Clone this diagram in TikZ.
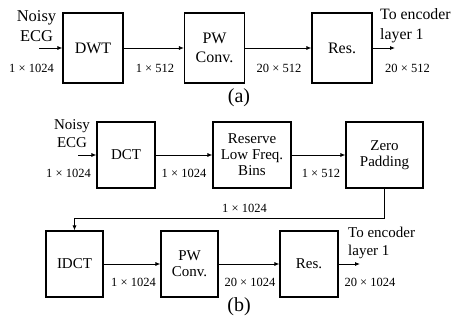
\documentclass[tikz,border=0pt]{standalone}
\usepackage{fontspec}
\setmainfont{Liberation Serif}
\usetikzlibrary{arrows.meta,positioning,calc}

\begin{document}
\begin{tikzpicture}[x=1pt, y=-1pt,
  blk/.style={draw, line width=1.1pt, inner sep=0pt, align=center, minimum width=60pt, minimum height=70pt, font=\fontsize{16}{19}\selectfont},
  blkb/.style={blk, minimum width=58pt, minimum height=66pt, font=\fontsize{15}{16}\selectfont},
  dim/.style={inner sep=0pt, font=\fontsize{12.5}{14}\selectfont},
  txt/.style={inner sep=0pt, align=center, font=\fontsize{16.5}{20}\selectfont},
  txtb/.style={txt, font=\fontsize{15}{18}\selectfont},
  arr/.style={-{Latex[length=5pt, width=4pt]}, line width=0.8pt},
]
  \useasboundingbox (0,0) rectangle (453,326);

  % (a): DWT branch
  \node[txt] (noisya) at (36.5,26) {Noisy\\ECG};
  \coordinate (ina) at (39,48);
  \node[blk] (dwt) at (93,48) {DWT};
  \node[blk] (pwa) at (214.5,48) {PW\\Conv.};
  \node[blk] (resa) at (342,48) {Res.};
  \coordinate (outa) at (395,48);
  \node[txt, align=left, anchor=west, font=\fontsize{15.8}{20}\selectfont] (enca) at (380,26) {To encoder\\layer 1};

  \node[dim] (da1) at (31.5,68) {1 × 1024};
  \node[dim] (da2) at (155,68) {1 × 512};
  \node[dim] (da3) at (279,68) {20 × 512};
  \node[dim] (da4) at (407.5,68) {20 × 512};

  \draw[arr] (ina) -- (dwt);
  \draw[arr] (dwt) -- (pwa);
  \draw[arr] (pwa) -- (resa);
  \draw[arr] (resa) -- (outa);

  \node[font=\fontsize{20}{22}\selectfont] (laba) at (239,98) {(a)};

  % (b): DCT branch, first row
  \node[txtb] (noisyb) at (72,134) {Noisy\\ECG};
  \coordinate (inb) at (78,155);
  \node[blkb] (dct) at (126,155) {DCT};
  \node[blkb, minimum width=78pt] (keep) at (252,155) {Reserve\\Low Freq.\\Bins};
  \node[blkb, minimum width=77pt] (zero) at (384.5,155) {Zero\\Padding};

  \node[dim] (db1) at (68.5,173) {1 × 1024};
  \node[dim] (db2) at (184,173) {1 × 1024};
  \node[dim] (db3) at (321,173) {1 × 512};
  \node[dim] (db4) at (244.5,208) {1 × 1024};

  \draw[arr] (inb) -- (dct);
  \draw[arr] (dct) -- (keep);
  \draw[arr] (keep) -- (zero);

  % (b): second row
  \node[blkb, minimum width=57pt] (idct) at (74.5,264) {IDCT};
  \node[blkb, minimum width=57pt] (pwb) at (189.5,264) {PW\\Conv.};
  \node[blkb] (resb) at (309,264) {Res.};
  \coordinate (outb) at (360,264);
  \node[txtb, align=left, anchor=west] (encb) at (348,242.5) {To encoder\\layer 1};

  \node[dim] (db5) at (133.5,282) {1 × 1024};
  \node[dim] (db6) at (250,282) {20 × 1024};
  \node[dim] (db7) at (370,282) {20 × 1024};

  \draw[arr] (zero.south) -- ++(0,30) -| (idct.north);
  \draw[arr] (idct) -- (pwb);
  \draw[arr] (pwb) -- (resb);
  \draw[arr] (resb) -- (outb);

  \node[font=\fontsize{20}{22}\selectfont] (labb) at (239,307) {(b)};
\end{tikzpicture}
\end{document}
